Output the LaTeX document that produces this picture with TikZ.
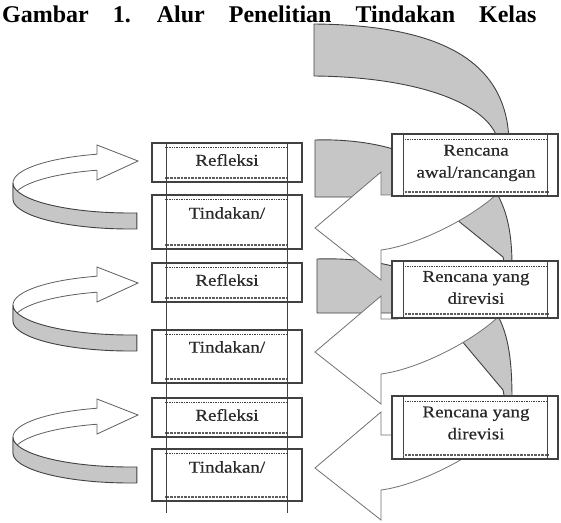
\documentclass[tikz,border=0pt]{standalone}
\usepackage{fontspec}
\setmainfont{Liberation Serif}
\newfontfamily\boxfont[FakeStretch=1.15,FakeBold=0.4]{Liberation Serif}
\definecolor{bandgray}{RGB}{198,198,198}
\definecolor{edgec}{RGB}{65,65,65}
\definecolor{txtc}{RGB}{40,40,40}
\newcommand\mkribbon[1]{%
\begin{scope}[shift={(0,#1)}]
  \path[ribwhite] (97,-7) -- (97,-16) -- (138,0) -- (97,19) -- (97,9)
    -- plot[domain=253.6:180, samples=30] ({130+117*cos(\x)}, {38+30*sin(\x)})
    -- plot[domain=180:253.6, samples=30] ({130+117*cos(\x)}, {22+30*sin(\x)}) -- cycle;
  \path[band] plot[domain=180:86.6, samples=30] ({130+117*cos(\x)}, {22+30*sin(\x)})
    -- plot[domain=86.6:180, samples=30] ({130+117*cos(\x)}, {38+30*sin(\x)}) -- cycle;
\end{scope}}
\newcommand\mkwarrow[1]{%
\begin{scope}[shift={(0,#1)}]
  \path[whitearrow] (315,0) -- (381,-56) -- (381,-33) -- (398,-33) -- (398,-45)
    -- (505,-45) -- (505,-42) .. controls (480,-14) and (420,17) .. (381,22)
    -- (381,52) -- cycle;
\end{scope}}
\begin{document}
\begin{tikzpicture}[x=1pt,y=-1pt,
  band/.style={fill=bandgray, draw=edgec, line width=0.9pt, line join=round},
  ribwhite/.style={fill=white, draw=edgec!85, line width=0.8pt, line join=miter},
  whitearrow/.style={fill=white, draw=edgec!75, line width=0.8pt, line join=miter},
  lbox/.style={draw=edgec, line width=1.3pt, fill=white, minimum width=150pt, inner sep=0pt},
  rbox/.style={draw=edgec, line width=1.3pt, fill=white, minimum width=166pt, inner sep=0pt},
  btext/.style={font=\boxfont\fontsize{16.5}{22}\selectfont, text=txtc, inner sep=0pt, align=center},
  topdots/.style={draw=edgec, densely dotted, line width=0.7pt},
  hatch/.style={draw=edgec!85, dash pattern=on 0.7pt off 0.7pt, line width=1.7pt},
  innerline/.style={draw=edgec, line width=0.7pt},
]
\useasboundingbox (0,0) rectangle (561,522);
% title
\node[anchor=base west, inner sep=0pt, font=\bfseries\fontsize{24}{26}\selectfont] (title) at (2,22)
  {Gambar\hspace{18pt} 1.\hspace{18pt} Alur\hspace{18pt} Penelitian\hspace{18pt} Tindakan\hspace{18pt} Kelas};
% gray bands on the right
\path[band] (314,24) .. controls (430,25) and (509,55) .. (509,145) -- (499,145)
  .. controls (494,105) and (420,77) .. (314,76) -- cycle;
\path[band] (315,140) .. controls (345,139) and (375,143) .. (396,150) -- (396,197) -- (315,197) -- cycle;
\path[band] (317,259) .. controls (345,258) and (375,261) .. (396,267) -- (396,313) -- (317,313) -- cycle;
\path[band] (425,194) -- (496,192) .. controls (508,212) and (512,236) .. (512,266) -- (505,266) -- (503,257) -- cycle;
\path[band] (440,315) -- (497,314) .. controls (509,336) and (512,362) .. (512,400) -- (505,400) -- (503,390) -- cycle;
% white arrows pointing left
\mkwarrow{228}
\mkwarrow{352}
\mkwarrow{468}
% right boxes
\node[rbox, minimum height=62pt] (ra) at (475,165) {};
\node[rbox, minimum height=57pt] (rb) at (475,289.5) {};
\node[rbox, minimum height=63pt] (rc) at (475,427.5) {};
\foreach \b in {ra,rb,rc}{
  \draw[innerline] ([xshift=12pt]\b.north west) -- ([xshift=12pt]\b.south west);
  \draw[innerline] ([xshift=-11pt]\b.north east) -- ([xshift=-11pt]\b.south east);
  \draw[topdots] ([xshift=12pt,yshift=-6pt]\b.north west) -- ([xshift=-11pt,yshift=-6pt]\b.north east);
  \draw[hatch] ([xshift=12pt,yshift=5pt]\b.south west) -- ([xshift=-11pt,yshift=5pt]\b.south east);
}
\node[btext] (ta) at (476,163) {Rencana\\awal/rancangan};
\node[btext] (tb) at (476,287.5) {Rencana yang\\direvisi};
\node[btext] (tc) at (476,423) {Rencana yang\\direvisi};
% left ribbon arrows
\mkribbon{161}
\mkribbon{283}
\mkribbon{415}
% left column
\node[lbox, minimum height=39pt] (r1) at (227,162.5) {};
\node[lbox, minimum height=54pt] (t1) at (227,222) {};
\node[lbox, minimum height=39pt] (r2) at (227,282.5) {};
\node[lbox, minimum height=53pt] (t2) at (227,356.5) {};
\node[lbox, minimum height=39pt] (r3) at (227,417.5) {};
\node[lbox, minimum height=52pt] (t3) at (227,475) {};
\foreach \b in {r1,t1,r2,t2,r3,t3}{
  \draw[topdots] ([xshift=14pt,yshift=-5pt]\b.north west) -- ([xshift=-15pt,yshift=-5pt]\b.north east);
  \draw[hatch] ([xshift=14pt,yshift=5pt]\b.south west) -- ([xshift=-15pt,yshift=5pt]\b.south east);
}
\coordinate (vl) at (166,513);
\coordinate (vr) at (287,513);
\draw[innerline] (r1.north west -| vl) -- (vl);
\draw[innerline] (r1.north east -| vr) -- (vr);
\node[btext] (l1) at (227,160) {Refleksi};
\node[btext] (l2) at (227,213) {Tindakan/};
\node[btext] (l3) at (227,280) {Refleksi};
\node[btext] (l4) at (227,347) {Tindakan/};
\node[btext] (l5) at (227,415) {Refleksi};
\node[btext] (l6) at (227,467) {Tindakan/};
\end{tikzpicture}
\end{document}
